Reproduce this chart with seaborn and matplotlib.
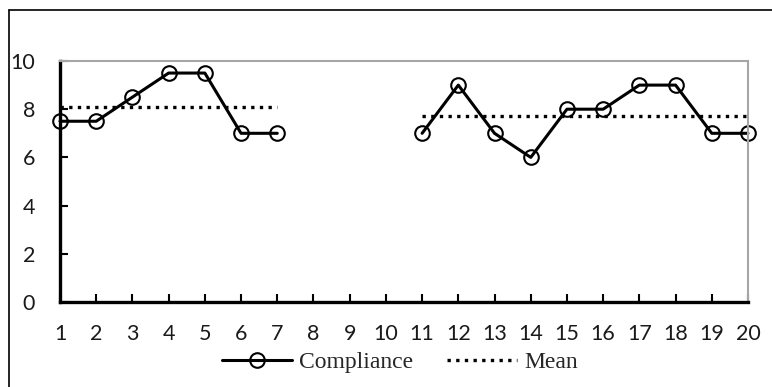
import numpy as np
import pandas as pd
import seaborn as sns
import matplotlib.pyplot as plt
from matplotlib.lines import Line2D

# Session-by-session compliance ratings, two phases separated by sessions 8-10
sessions = list(range(1, 21))
compliance = [7.5, 7.5, 8.5, 9.5, 9.5, 7, 7, np.nan, np.nan, np.nan,
              7, 9, 7, 6, 8, 8, 9, 9, 7, 7]
phase = ["A"] * 7 + [None] * 3 + ["B"] * 10
x_ticks = list(range(1, 21))
y_ticks = [0, 2, 4, 6, 8, 10]

df = pd.DataFrame({"session": sessions, "compliance": compliance, "phase": phase})
df = df.dropna(subset=["compliance"])
df["mean"] = df.groupby("phase")["compliance"].transform("mean")

sns.set_theme(style="white")
plt.rcParams["font.family"] = ["Lato", "DejaVu Sans"]

fig = plt.figure(figsize=(7.72, 3.87), dpi=100)
ax = fig.add_axes([60 / 772, 1 - 302 / 387, 688 / 772, 241 / 387])

sns.lineplot(data=df, x="session", y="mean", units="phase", estimator=None,
             color="black", linewidth=2.4, linestyle=(0, (1, 1.6)),
             dash_capstyle="butt", ax=ax, legend=False)
sns.lineplot(data=df, x="session", y="compliance", units="phase", estimator=None,
             color="black", linewidth=2.2, marker="o", markersize=10.5,
             markerfacecolor="none", markeredgecolor="black", markeredgewidth=1.5,
             ax=ax, legend=False, clip_on=False)

ax.set_xlim(1, 20)
ax.set_ylim(0, 10)
ax.set_xticks(x_ticks)
ax.set_yticks(y_ticks)
ax.set_xlabel("")
ax.set_ylabel("")
ax.tick_params(axis="both", direction="in", length=6, width=1.5, colors="black",
               labelsize=15.5, labelcolor="#1a1a1a", bottom=True, left=True)
ax.tick_params(axis="x", pad=16)
ax.tick_params(axis="y", pad=18)
ax.spines["left"].set_linewidth(2.4)
ax.spines["bottom"].set_linewidth(2.4)
ax.spines["left"].set_color("black")
ax.spines["bottom"].set_color("black")
for s in ("top", "right"):
    ax.spines[s].set_color("#A6A6A6")
    ax.spines[s].set_linewidth(1.5)

handles = [
    Line2D([], [], color="black", linewidth=2.2, marker="o", markersize=10.5,
           markerfacecolor="none", markeredgewidth=1.5, label="Compliance"),
    Line2D([], [], color="black", linewidth=2.4, linestyle=(0, (1, 1.6)),
           label="Mean"),
]
fig.legend(handles=handles, loc="center", bbox_to_anchor=(400 / 772, 1 - 362 / 387),
           ncol=2, frameon=False, handlelength=2.95, handletextpad=0.3,
           columnspacing=1.45, prop={"family": "Liberation Serif", "size": 17})

# Outer chart frame
fig.add_artist(Line2D([9 / 772, 9 / 772], [0, 1 - 10 / 387], transform=fig.transFigure,
                      color="black", linewidth=1.2))
fig.add_artist(Line2D([9 / 772, 1], [1 - 10 / 387, 1 - 10 / 387], transform=fig.transFigure,
                      color="black", linewidth=1.2))

fig.savefig("out.png", dpi=100)
